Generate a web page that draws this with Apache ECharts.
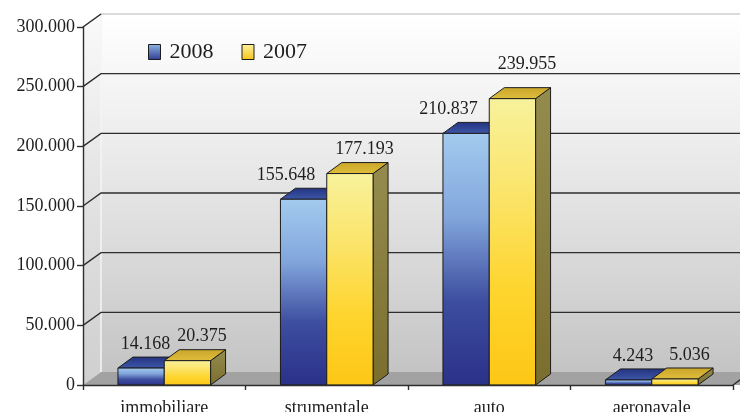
<!DOCTYPE html>
<html>
<head>
<meta charset="utf-8">
<script src="https://cdn.jsdelivr.net/npm/echarts@6/dist/echarts.min.js"></script>
<style>
html,body{margin:0;padding:0;background:#fff;}
#c{width:740px;height:412px;}
</style>
</head>
<body>
<div id="c"></div>
<script>
const categories = ['immobiliare', 'strumentale', 'auto', 'aeronavale'];
const seriesNames = ['2008', '2007'];
const values2008 = [14168, 155648, 210837, 4243];
const values2007 = [20375, 177193, 239955, 5036];
const yMax = 300000;
const yStep = 50000;

const FONT = 'Liberation Serif';
const WALL_DX = 18, WALL_DY = -13;
const BAR_DX = 15, BAR_DY = -11;
const BAR_FRAC = 0.285;

function fmt(v) {
  return String(Math.round(v)).replace(/\B(?=(\d{3})+(?!\d))/g, '.');
}
function grad(stops) {
  return { type: 'linear', x: 0, y: 0, x2: 0, y2: 1,
    colorStops: stops.map((c, i) => ({ offset: i / (stops.length - 1), color: c })) };
}

const styles = [
  { front: grad(['#a3cbef', '#82a6dc', '#3d4d9f', '#2a3188']),
    top: grad(['#233381', '#3e58a8']),
    side: grad(['#2f3f8c', '#1e2766']) },
  { front: grad(['#f8f29c', '#fbe46a', '#fed52e', '#fdc716']),
    top: grad(['#c9a52a', '#e0be3c']),
    side: grad(['#948c4e', '#7a6e2e']) }
];

function barRender(which) {
  return function (params, api) {
    const cat = api.value(0), v = api.value(1);
    const c = api.coord([cat, v]);
    const b = api.coord([cat, 0]);
    const bw = api.size([1, 0])[0] * BAR_FRAC;
    const x0 = which === 0 ? c[0] - bw : c[0];
    const ty = c[1], by = b[1];
    const st = styles[which];
    const edge = { stroke: '#1c1c1c', lineWidth: 1 };
    let ldx;
    if (which === 0) {
      ldx = (values2007[cat] - v > 10000) ? -25 : -3;
    } else {
      ldx = 7;
    }
    const lx = x0 + bw / 2 + BAR_DX / 2 + ldx;
    let ly = ty + BAR_DY - 13;
    const gy = api.coord([cat, Math.round(v / yStep) * yStep])[1] + WALL_DY;
    if (Math.abs(ly - gy) < 8) ly = gy - 9;
    return {
      type: 'group',
      children: [
        { type: 'polygon', shape: { points: [[x0 + bw, ty], [x0 + bw + BAR_DX, ty + BAR_DY], [x0 + bw + BAR_DX, by + BAR_DY], [x0 + bw, by]] },
          style: Object.assign({ fill: st.side }, edge) },
        { type: 'polygon', shape: { points: [[x0, ty], [x0 + BAR_DX, ty + BAR_DY], [x0 + bw + BAR_DX, ty + BAR_DY], [x0 + bw, ty]] },
          style: Object.assign({ fill: st.top }, edge) },
        { type: 'rect', shape: { x: x0, y: ty, width: bw, height: by - ty },
          style: Object.assign({ fill: st.front }, edge) },
        { type: 'text', style: { text: fmt(v), x: lx, y: ly, align: 'center', verticalAlign: 'middle',
          fontSize: 18, fontFamily: FONT, fill: '#1e1e1e' } }
      ]
    };
  };
}

function bgRender(params, api) {
  const cs = params.coordSys;
  const left = cs.x, right = cs.x + cs.width;
  const y0 = api.coord([0, 0])[1];
  const yT = api.coord([0, yMax])[1];
  const children = [];
  children.push({ type: 'rect', shape: { x: left + WALL_DX, y: yT + WALL_DY, width: cs.width + 40, height: y0 - yT },
    style: { fill: grad(['#ffffff', '#eeeeee', '#dadada', '#c4c4c4']) } });
  children.push({ type: 'polygon', shape: { points: [[left, yT], [left + WALL_DX, yT + WALL_DY], [left + WALL_DX, y0 + WALL_DY], [left, y0]] },
    style: { fill: grad(['#fafafa', '#e2e2e2', '#cfcfcf']) } });
  children.push({ type: 'polygon', shape: { points: [[left, y0], [left + WALL_DX, y0 + WALL_DY], [right + WALL_DX + 40, y0 + WALL_DY], [right + 40, y0]] },
    style: { fill: '#a2a2a2' } });
  children.push({ type: 'line', shape: { x1: left + WALL_DX, y1: yT + WALL_DY, x2: left + WALL_DX, y2: y0 + WALL_DY },
    style: { stroke: '#f4f4f4', lineWidth: 1.5 } });
  for (let t = yStep; t <= yMax; t += yStep) {
    const y = api.coord([0, t])[1];
    const top = t === yMax;
    children.push({ type: 'polyline', shape: { points: [[left, y], [left + WALL_DX, y + WALL_DY], [right + WALL_DX + 40, y + WALL_DY]] },
      style: { stroke: top ? '#b8b8b8' : '#2e2e2e', lineWidth: top ? 1.2 : 1.4, fill: null } });
    if (top) {
      children.push({ type: 'line', shape: { x1: left, y1: y, x2: left + WALL_DX, y2: y + WALL_DY },
        style: { stroke: '#2e2e2e', lineWidth: 1.4 } });
    }
  }
  children.push({ type: 'line', shape: { x1: right, y1: y0, x2: right + WALL_DX, y2: y0 + WALL_DY },
    style: { stroke: '#2e2e2e', lineWidth: 1.4 } });
  return { type: 'group', children };
}

const chart = echarts.init(document.getElementById('c'), null, { renderer: 'canvas' });
chart.setOption({
  animation: false,
  backgroundColor: '#ffffff',
  textStyle: { fontFamily: FONT },
  grid: { left: 83, right: 7, top: 27, bottom: 27, containLabel: false, outerBoundsMode: 'none' },
  legend: {
    left: 143, top: 36,
    itemWidth: 12, itemHeight: 15, itemGap: 28,
    icon: 'rect',
    textStyle: { fontSize: 22, fontFamily: FONT, color: '#1e1e1e', padding: [0, 0, 0, 4] },
    data: [
      { name: seriesNames[0], itemStyle: { color: grad(['#8fb6e4', '#2e3a92']), borderColor: '#1c1c1c', borderWidth: 1 } },
      { name: seriesNames[1], itemStyle: { color: grad(['#fff3a0', '#f5c518']), borderColor: '#1c1c1c', borderWidth: 1 } }
    ]
  },
  xAxis: {
    type: 'category', data: categories, z: 10,
    axisLine: { lineStyle: { color: '#2e2e2e', width: 1.4 } },
    axisTick: { show: true, length: 5, lineStyle: { color: '#2e2e2e', width: 1.4 } },
    axisLabel: { fontSize: 18, fontFamily: FONT, color: '#1e1e1e', margin: 14 },
    splitLine: { show: false }
  },
  yAxis: {
    type: 'value', min: 0, max: yMax, interval: yStep, z: 10,
    axisLine: { show: true, lineStyle: { color: '#2e2e2e', width: 1.4 } },
    axisTick: { show: true, length: 6, lineStyle: { color: '#2e2e2e', width: 1.4 } },
    axisLabel: { fontSize: 18, fontFamily: FONT, color: '#1e1e1e', margin: 8, formatter: fmt },
    splitLine: { show: false }
  },
  series: [
    { name: 'bg', type: 'custom', silent: true, renderItem: bgRender, data: [[0, 0]], z: 1, clip: false },
    { name: seriesNames[0], type: 'custom', renderItem: barRender(0), z: 3,
      itemStyle: { color: '#4a64b0' },
      data: categories.map((c, i) => [i, values2008[i]]) },
    { name: seriesNames[1], type: 'custom', renderItem: barRender(1), z: 4,
      itemStyle: { color: '#f5d040' },
      data: categories.map((c, i) => [i, values2007[i]]) }
  ]
});
</script>
</body>
</html>
